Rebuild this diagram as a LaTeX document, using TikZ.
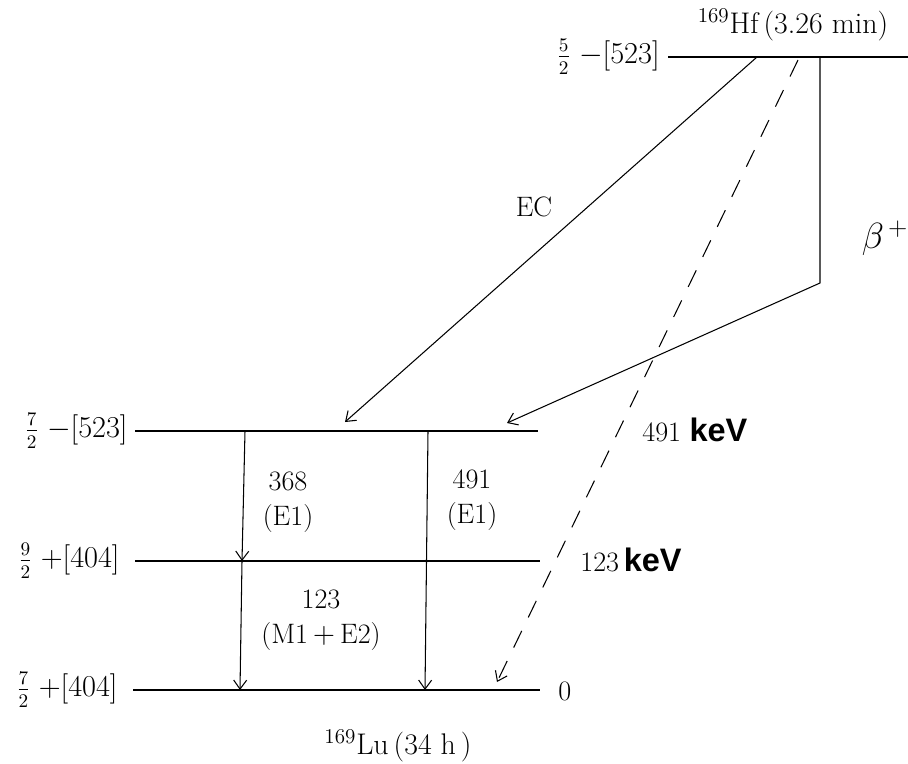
\documentclass[tikz,border=0pt]{standalone}
\usepackage{fontspec}
\newfontfamily\kevfont{Liberation Sans}
\usetikzlibrary{arrows.meta}
\newcommand{\kev}{{\fontsize{18.5}{20}\selectfont\kevfont\bfseries keV}}
\begin{document}
\begin{tikzpicture}[x=0.02cm, y=-0.02cm,
  every node/.style={align=center, font=\fontsize{16}{20}\selectfont},
  level/.style={line width=0.6pt},
  spin/.style={anchor=east, inner sep=0pt},
  energy/.style={anchor=west, inner sep=0pt},
  nuclide/.style={font=\fontsize{17}{20}\selectfont},
  trans/.style={line width=0.6pt, -{Straight Barb[length=1.8mm, width=2.6mm]}}]
\useasboundingbox (0,0) rectangle (908,763);
% levels
\coordinate (hfL) at (668,57);  \coordinate (hfR) at (908,57);
\coordinate (aL) at (135,431);  \coordinate (aR) at (538,431);
\coordinate (bL) at (135,561);  \coordinate (bR) at (540,561);
\coordinate (cL) at (133,690);  \coordinate (cR) at (540,690);
\draw[level] (hfL) -- (hfR);
\draw[level] (aL) -- (aR);
\draw[level] (bL) -- (bR);
\draw[level] (cL) -- (cR);
\node[spin] (jhf) at (660,57) {$\frac{5}{2}\;{-}[523]$};
\node[spin] (ja) at (128,431) {$\frac{7}{2}\;{-}[523]$};
\node[spin] (jb) at (120,561) {$\frac{9}{2}\;{+}[404]$};
\node[spin] (jc) at (118,690) {$\frac{7}{2}\;{+}[404]$};
\node[nuclide] (hf) at (793,25) {$^{169}$Hf\,(3.26 min)};
\node[nuclide] (lu) at (398,746) {$^{169}$Lu\,(34 h\,)};
\node[energy] (ea) at (642,430) {491 \kev};
\node[energy] (eb) at (580,560) {123\,\kev};
\node[energy] (ec) at (558,691) {0};
% decay branches
\coordinate (ecS) at (757,57);  \coordinate (ecE) at (345,422);
\coordinate (bpS) at (820,57);  \coordinate (bpK) at (820,283);
\coordinate (bpE) at (507,423);
\coordinate (dS) at (798,60);   \coordinate (dE) at (497,682);
\draw[trans] (ecS) -- (ecE);
\draw[trans] (bpS) -- (bpK) -- (bpE);
\draw[trans, dash pattern=on 10.5pt off 8.5pt] (dS) -- (dE);
\node (lec) at (534,207) {EC};
\node (lbp) at (885,238) {\fontsize{22}{24}\selectfont$\beta^{\,+}$};
% gamma transitions
\coordinate (g1S) at (245,431); \coordinate (g1E) at (242,561);
\coordinate (g2S) at (242,561); \coordinate (g2E) at (240,690);
\coordinate (g3S) at (428,431); \coordinate (g3E) at (425,690);
\draw[trans] (g1S) -- (g1E);
\draw[trans] (g2S) -- (g2E);
\draw[trans] (g3S) -- (g3E);
\node (t368) at (288,502) {368\\(E1)};
\node (t491) at (472,500) {491\\(E1)};
\node (t123) at (321,620) {123\\(M1$\,+\,$E2)};
\end{tikzpicture}
\end{document}
